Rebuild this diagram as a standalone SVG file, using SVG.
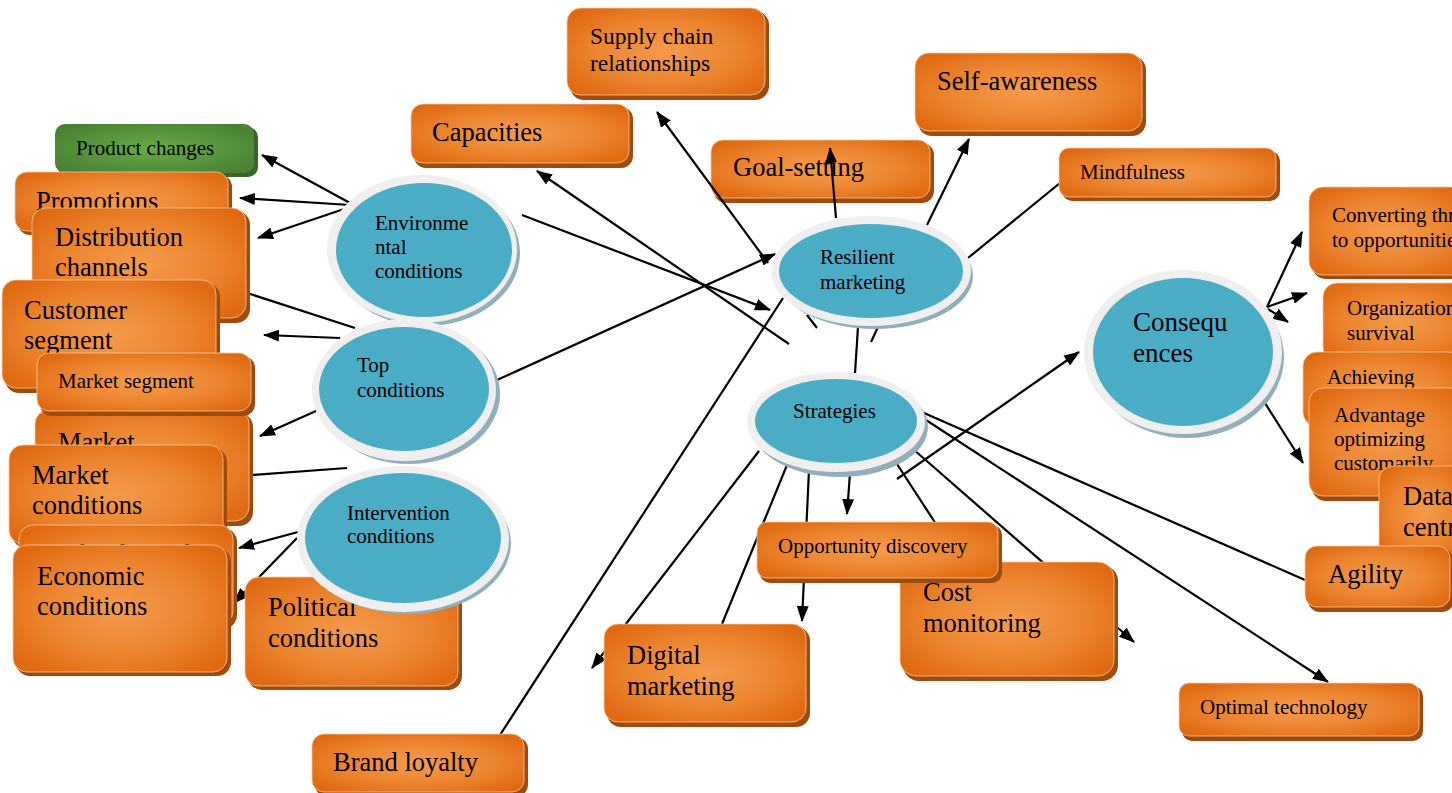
<svg xmlns="http://www.w3.org/2000/svg" width="1452" height="793" viewBox="0 0 1452 793">
<defs>
<radialGradient id="og" cx="0.5" cy="0.5" r="0.62">
<stop offset="0" stop-color="#F59B4C"/>
<stop offset="0.55" stop-color="#EC8530"/>
<stop offset="1" stop-color="#E06A12"/>
</radialGradient>
<radialGradient id="gg" cx="0.5" cy="0.5" r="0.62">
<stop offset="0" stop-color="#66AC47"/>
<stop offset="1" stop-color="#4A8135"/>
</radialGradient>
<marker id="ah" viewBox="0 0 16 12" markerWidth="16" markerHeight="12" refX="15" refY="6" orient="auto" markerUnits="userSpaceOnUse">
<path d="M0,0 L16,6 L0,12 z" fill="#000"/>
</marker>
<style>
.sh{fill:#A04B0C}
.bx{fill:url(#og);stroke:#F6C9A0;stroke-width:0.8}
.gsh{fill:#3A6528}
.gbx{fill:url(#gg)}
.t{font-family:"Liberation Serif","Times New Roman",serif;fill:#000}
.b{font-size:26.5px}
.m{font-size:23.5px}
.s{font-size:21px}
.c{font-size:27px}
.esh{fill:#93AEBB}
.eo{fill:#EFEFEF}
.ei{fill:#4BACC6}
.ln{stroke:#000;stroke-width:2.2;fill:none}
.ar{stroke:#000;stroke-width:2.2;fill:none;marker-end:url(#ah)}
</style>
</defs>
<rect width="1452" height="793" fill="#fff"/>

<g id="goal-setting">
<rect class="sh" x="714" y="143" width="220" height="60" rx="12"/>
<rect class="bx" x="711" y="140" width="219" height="58" rx="12"/>
<text class="t b" x="733" y="176">Goal-setting</text>
</g>

<g id="connectors">
<path class="ar" d="M350,203 L262,155"/>
<path class="ar" d="M350,205 L240,198"/>
<path class="ar" d="M350,207 L258,238"/>
<path class="ln" d="M247,293 L355,328"/>
<path class="ar" d="M340,338 L264,335"/>
<path class="ar" d="M316,411 L260,436"/>
<path class="ln" d="M347,468 L252,475"/>
<path class="ar" d="M298,532 L239,548"/>
<path class="ar" d="M297,538 L234,603"/>
<path class="ar" d="M522,215 L770,310"/>
<path class="ar" d="M789,344 L537,171"/>
<path class="ar" d="M497,380 L775,254"/>
<path class="ar" d="M768,263 L657,112"/>
<path class="ar" d="M836,218 L830,148"/>
<path class="ar" d="M927,225 L969,139"/>
<path class="ln" d="M968,258 L1060,183"/>
<path class="ln" d="M858,327 L855,373"/>
<path class="ln" d="M807,315 L817,328"/>
<path class="ln" d="M871,342 L878,327"/>
<path class="ln" d="M783,298 L500,735"/>
<path class="ar" d="M759,451 L592,668"/>
<path class="ln" d="M787,465 L722,624"/>
<path class="ar" d="M809,470 L802,621"/>
<path class="ar" d="M850,473 L847,514"/>
<path class="ln" d="M895,461 L936,524"/>
<path class="ar" d="M913,449 L1134,642"/>
<path class="ar" d="M897,479 L1079,352"/>
<path class="ln" d="M924,413 L1305,580"/>
<path class="ar" d="M926,420 L1328,682"/>
<path class="ar" d="M1267,307 L1302,232"/>
<path class="ar" d="M1267,307 L1307,293"/>
<path class="ar" d="M1268,309 L1288,322"/>
<path class="ar" d="M1263,400 L1303,463"/>
</g>

<g id="product-changes">
<rect class="gsh" x="58" y="127" width="200" height="50" rx="10"/>
<rect class="gbx" x="55" y="124" width="199" height="49" rx="10"/>
<text class="t s" x="76" y="155">Product changes</text>
</g>
<g id="promotions">
<rect class="sh" x="18" y="175" width="214" height="60" rx="12"/>
<rect class="bx" x="15" y="172" width="213" height="59" rx="12"/>
<text class="t b" x="36" y="210">Promotions</text>
</g>
<g id="distribution-channels">
<rect class="sh" x="35" y="211" width="215" height="112" rx="14"/>
<rect class="bx" x="32" y="208" width="214" height="110" rx="14"/>
<text class="t b" x="55" y="246">Distribution</text>
<text class="t b" x="55" y="276">channels</text>
</g>
<g id="customer-segment">
<rect class="sh" x="5" y="283" width="215" height="110" rx="14"/>
<rect class="bx" x="2" y="280" width="214" height="108" rx="14"/>
<text class="t b" x="24" y="319">Customer</text>
<text class="t b" x="24" y="349">segment</text>
</g>
<g id="market-hidden">
<rect class="sh" x="38" y="413" width="215" height="113" rx="14"/>
<rect class="bx" x="35" y="410" width="214" height="111" rx="14"/>
<text class="t b" x="58" y="451">Market</text>
</g>
<g id="market-segment">
<rect class="sh" x="40" y="356" width="215" height="60" rx="12"/>
<rect class="bx" x="37" y="353" width="214" height="58" rx="12"/>
<text class="t s" x="58" y="388">Market segment</text>
</g>
<g id="market-conditions">
<rect class="sh" x="12" y="448" width="215" height="100" rx="14"/>
<rect class="bx" x="9" y="445" width="214" height="99" rx="14"/>
<text class="t b" x="32" y="484">Market</text>
<text class="t b" x="32" y="514">conditions</text>
</g>
<g id="technological">
<rect class="sh" x="22" y="528" width="215" height="101" rx="14"/>
<rect class="bx" x="19" y="525" width="214" height="100" rx="14"/>
<text class="t b" x="42" y="563">Technological</text>
</g>
<g id="economic-conditions">
<rect class="sh" x="16" y="548" width="215" height="128" rx="14"/>
<rect class="bx" x="13" y="545" width="214" height="127" rx="14"/>
<text class="t b" x="37" y="585">Economic</text>
<text class="t b" x="37" y="615">conditions</text>
</g>
<g id="political-conditions">
<rect class="sh" x="248" y="580" width="214" height="110" rx="14"/>
<rect class="bx" x="245" y="577" width="213" height="109" rx="14"/>
<text class="t b" x="268" y="616">Political</text>
<text class="t b" x="268" y="647">conditions</text>
</g>
<g id="brand-loyalty">
<rect class="sh" x="315" y="737" width="213" height="60" rx="12"/>
<rect class="bx" x="312" y="734" width="212" height="58" rx="12"/>
<text class="t b" x="333" y="771">Brand loyalty</text>
</g>
<g id="capacities">
<rect class="sh" x="414" y="107" width="219" height="61" rx="12"/>
<rect class="bx" x="411" y="104" width="218" height="59" rx="12"/>
<text class="t b" x="432" y="141">Capacities</text>
</g>
<g id="supply-chain">
<rect class="sh" x="570" y="11" width="199" height="89" rx="14"/>
<rect class="bx" x="567" y="8" width="198" height="87" rx="14"/>
<text class="t m" x="590" y="44">Supply chain</text>
<text class="t m" x="590" y="71">relationships</text>
</g>
<g id="self-awareness">
<rect class="sh" x="918" y="56" width="228" height="80" rx="14"/>
<rect class="bx" x="915" y="53" width="227" height="78" rx="14"/>
<text class="t b" x="937" y="90">Self-awareness</text>
</g>
<g id="mindfulness">
<rect class="sh" x="1062" y="151" width="218" height="50" rx="10"/>
<rect class="bx" x="1059" y="148" width="217" height="49" rx="10"/>
<text class="t s" x="1080" y="179">Mindfulness</text>
</g>
<g id="converting">
<rect class="sh" x="1312" y="190" width="160" height="89" rx="14"/>
<rect class="bx" x="1309" y="187" width="160" height="88" rx="14"/>
<text class="t s" x="1332" y="222">Converting threats</text>
<text class="t s" x="1332" y="247">to opportunities</text>
</g>
<g id="organizational-survival">
<rect class="sh" x="1326" y="286" width="150" height="80" rx="14"/>
<rect class="bx" x="1323" y="283" width="150" height="78" rx="14"/>
<text class="t s" x="1347" y="315">Organizational</text>
<text class="t s" x="1347" y="340">survival</text>
</g>
<g id="achieving">
<rect class="sh" x="1306" y="355" width="160" height="75" rx="14"/>
<rect class="bx" x="1303" y="352" width="160" height="74" rx="14"/>
<text class="t s" x="1327" y="384">Achieving</text>
</g>
<g id="advantage">
<rect class="sh" x="1312" y="391" width="160" height="110" rx="14"/>
<rect class="bx" x="1309" y="388" width="160" height="108" rx="14"/>
<text class="t s" x="1334" y="422">Advantage</text>
<text class="t s" x="1334" y="446">optimizing</text>
<text class="t s" x="1334" y="470">customarily</text>
</g>
<g id="data-centric">
<rect class="sh" x="1382" y="469" width="90" height="95" rx="14"/>
<rect class="bx" x="1379" y="466" width="90" height="94" rx="14"/>
<text class="t b" x="1403" y="505">Data</text>
<text class="t b" x="1403" y="536">centric</text>
</g>
<g id="agility">
<rect class="sh" x="1308" y="549" width="146" height="63" rx="12"/>
<rect class="bx" x="1305" y="546" width="145" height="61" rx="12"/>
<text class="t b" x="1328" y="583">Agility</text>
</g>
<g id="optimal-technology">
<rect class="sh" x="1182" y="686" width="241" height="55" rx="10"/>
<rect class="bx" x="1179" y="683" width="240" height="53" rx="10"/>
<text class="t s" x="1200" y="714">Optimal technology</text>
</g>
<g id="cost-monitoring">
<rect class="sh" x="903" y="565" width="215" height="116" rx="16"/>
<rect class="bx" x="900" y="562" width="214" height="114" rx="16"/>
<text class="t b" x="923" y="601">Cost</text>
<text class="t b" x="923" y="632">monitoring</text>
</g>
<g id="opportunity-discovery">
<rect class="sh" x="760" y="525" width="242" height="58" rx="10"/>
<rect class="bx" x="757" y="522" width="241" height="56" rx="10"/>
<text class="t s" x="778" y="553">Opportunity discovery</text>
</g>
<g id="digital-marketing">
<rect class="sh" x="607" y="627" width="203" height="100" rx="14"/>
<rect class="bx" x="604" y="624" width="202" height="98" rx="14"/>
<text class="t b" x="627" y="664">Digital</text>
<text class="t b" x="627" y="695">marketing</text>
</g>

<g id="environmental-conditions">
<ellipse class="esh" cx="426" cy="253" rx="94" ry="73"/>
<ellipse class="eo" cx="422" cy="249" rx="95" ry="74"/>
<ellipse class="ei" cx="424" cy="250" rx="88" ry="67"/>
<text class="t s" x="375" y="230">Environme</text>
<text class="t s" x="375" y="254">ntal</text>
<text class="t s" x="375" y="278">conditions</text>
</g>
<g id="top-conditions">
<ellipse class="esh" cx="409" cy="394" rx="91" ry="70"/>
<ellipse class="eo" cx="404" cy="390" rx="92" ry="71"/>
<ellipse class="ei" cx="404" cy="389" rx="85" ry="62"/>
<text class="t s" x="357" y="372">Top</text>
<text class="t s" x="357" y="397">conditions</text>
</g>
<g id="intervention-conditions">
<ellipse class="esh" cx="407" cy="543" rx="104" ry="71"/>
<ellipse class="eo" cx="403" cy="539" rx="106" ry="73"/>
<ellipse class="ei" cx="403" cy="538" rx="98" ry="65"/>
<text class="t s" x="347" y="520">Intervention</text>
<text class="t s" x="347" y="543">conditions</text>
</g>
<g id="resilient-marketing">
<ellipse class="esh" cx="875" cy="276" rx="98" ry="53"/>
<ellipse class="eo" cx="871" cy="271" rx="100" ry="55"/>
<ellipse class="ei" cx="871" cy="271" rx="92" ry="47"/>
<text class="t s" x="820" y="264">Resilient</text>
<text class="t s" x="820" y="289">marketing</text>
</g>
<g id="strategies">
<ellipse class="esh" cx="840" cy="427" rx="88" ry="50"/>
<ellipse class="eo" cx="836" cy="422" rx="89" ry="50"/>
<ellipse class="ei" cx="836" cy="421" rx="81" ry="42"/>
<text class="t s" x="793" y="418">Strategies</text>
</g>
<g id="consequences">
<ellipse class="esh" cx="1187" cy="357" rx="97" ry="81"/>
<ellipse class="eo" cx="1183" cy="352" rx="99" ry="82"/>
<ellipse class="ei" cx="1183" cy="352" rx="90" ry="74"/>
<text class="t c" x="1133" y="331">Consequ</text>
<text class="t c" x="1133" y="362">ences</text>
</g>
</svg>
